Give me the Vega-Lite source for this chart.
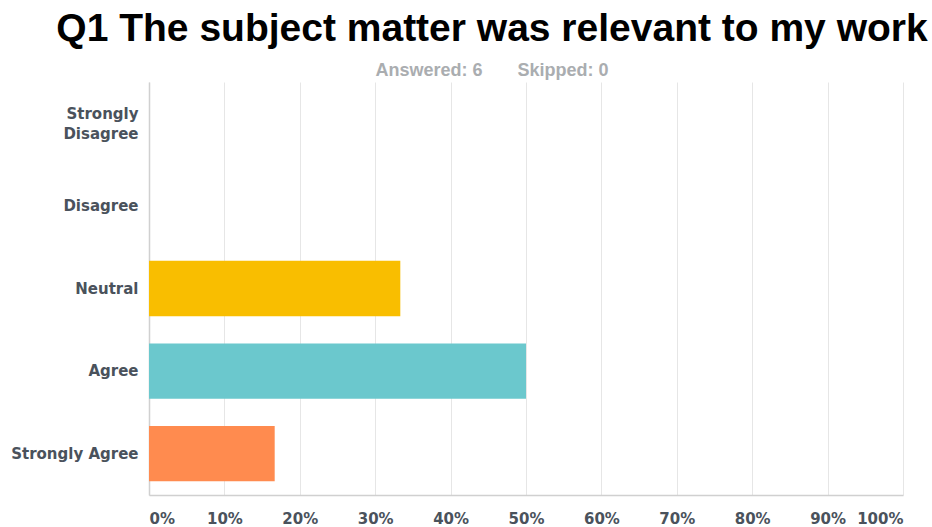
{
  "$schema": "https://vega.github.io/schema/vega-lite/v6.json",
  "autosize": {"type": "none"},
  "width": 754,
  "height": 413,
  "padding": {"left": 149, "top": 82, "right": 29, "bottom": 32},
  "background": "white",
  "title": {
    "text": "Q1 The subject matter was relevant to my work",
    "subtitle": "Answered: 6\u00a0\u00a0\u00a0\u00a0\u00a0\u00a0\u00a0Skipped: 0",
    "anchor": "middle",
    "frame": "group",
    "dx": -34,
    "offset": 2,
    "font": "Liberation Sans",
    "fontSize": 39,
    "fontWeight": "bold",
    "color": "#000000",
    "subtitleFont": "Liberation Sans",
    "subtitleFontSize": 18,
    "subtitleFontWeight": "bold",
    "subtitleColor": "#aaadb0",
    "subtitlePadding": 13
  },
  "data": {
    "values": [
      {"answer": "Strongly Disagree", "pct": 0},
      {"answer": "Disagree", "pct": 0},
      {"answer": "Neutral", "pct": 0.3333},
      {"answer": "Agree", "pct": 0.5},
      {"answer": "Strongly Agree", "pct": 0.1667}
    ]
  },
  "mark": {"type": "bar"},
  "encoding": {
    "y": {
      "field": "answer",
      "type": "nominal",
      "sort": ["Strongly Disagree", "Disagree", "Neutral", "Agree", "Strongly Agree"],
      "scale": {"paddingInner": 0.33, "paddingOuter": 0.165},
      "axis": {
        "title": null,
        "ticks": false,
        "grid": false,
        "domainColor": "#d0d0d0",
        "domainWidth": 1.5,
        "labelFont": "DejaVu Sans",
        "labelFontSize": 15,
        "labelFontWeight": "bold",
        "labelColor": "#4a525c",
        "labelPadding": 11,
        "labelLineHeight": 19.5,
        "labelLimit": 200,
        "labelOffset": {"condition": {"test": "datum.value == 'Strongly Disagree'", "value": -9}, "value": 0},
        "labelExpr": "datum.label == 'Strongly Disagree' ? ['Strongly', 'Disagree'] : datum.label"
      }
    },
    "x": {
      "field": "pct",
      "type": "quantitative",
      "scale": {"domain": [0, 1], "nice": false},
      "axis": {
        "title": null,
        "format": ".0%",
        "values": [0, 0.1, 0.2, 0.3, 0.4, 0.5, 0.6, 0.7, 0.8, 0.9, 1],
        "ticks": false,
        "grid": true,
        "gridColor": "#e6e6e6",
        "gridWidth": 1,
        "domainColor": "#d0d0d0",
        "domainWidth": 1.5,
        "labelFont": "DejaVu Sans",
        "labelFontSize": 15,
        "labelFontWeight": "bold",
        "labelColor": "#4a525c",
        "labelPadding": 16,
        "labelFlush": true
      }
    },
    "color": {
      "field": "answer",
      "type": "nominal",
      "scale": {
        "domain": ["Strongly Disagree", "Disagree", "Neutral", "Agree", "Strongly Agree"],
        "range": ["#a0a0a0", "#a0a0a0", "#f9be00", "#6bc8cd", "#ff8b4f"]
      },
      "legend": null
    }
  },
  "config": {"view": {"stroke": null}}
}
